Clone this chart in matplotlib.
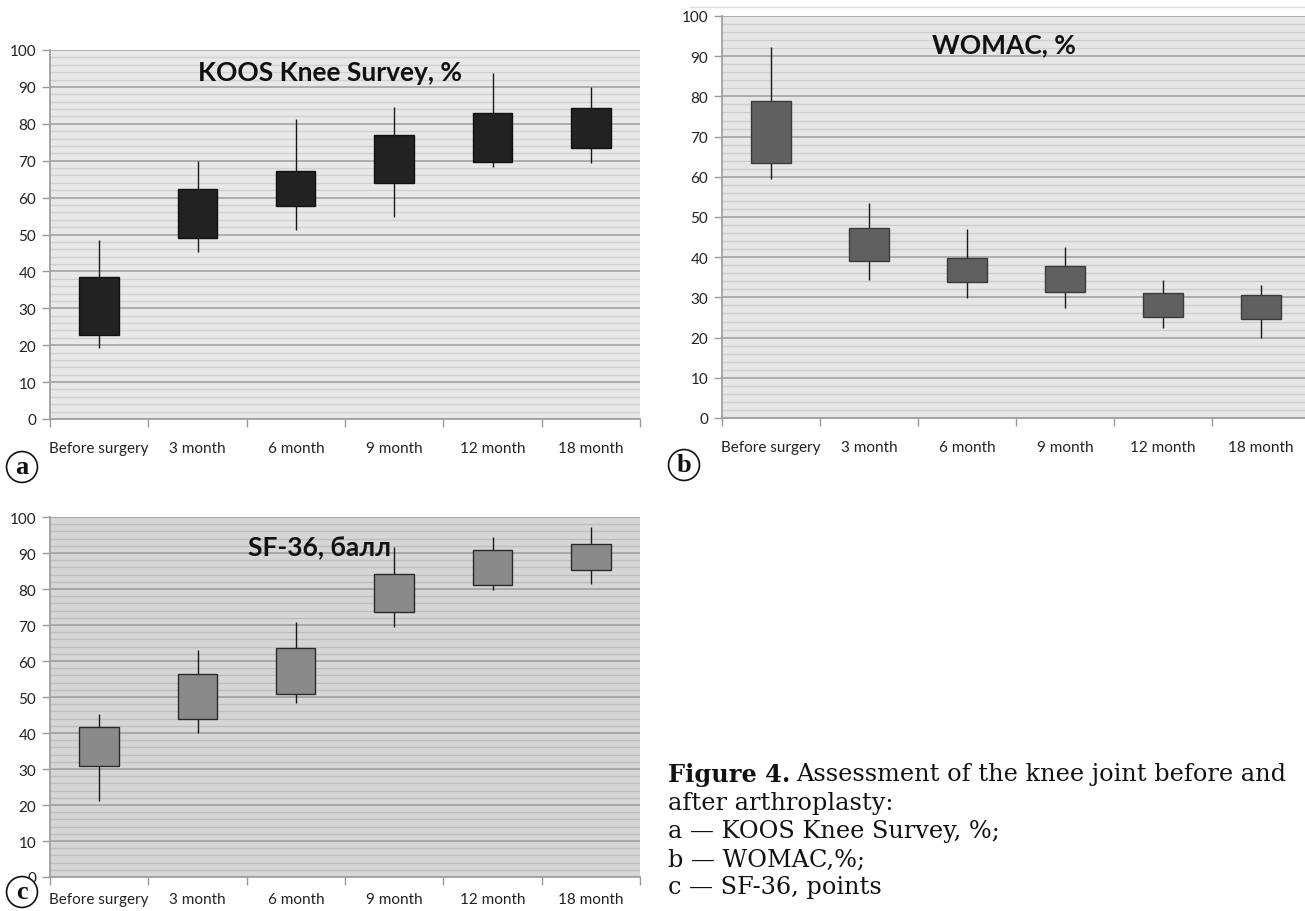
import numpy as np
import matplotlib.pyplot as plt
from matplotlib.ticker import MultipleLocator, FixedLocator, NullFormatter

plt.rcParams['font.family'] = ['Lato', 'DejaVu Sans']

months = ['Before surgery', '3 month', '6 month', '9 month', '12 month', '18 month']

# KOOS Knee Survey, %
koos_low = [19.2, 45.3, 51.2, 54.8, 68.4, 69.5]
koos_q1 = [22.8, 49.1, 57.6, 64.0, 69.6, 73.5]
koos_q3 = [38.4, 62.2, 67.3, 77.1, 82.9, 84.3]
koos_high = [48.6, 69.8, 81.2, 84.6, 93.8, 90.1]

# WOMAC, %
womac_low = [59.4, 34.4, 29.8, 27.3, 22.3, 19.8]
womac_q1 = [63.5, 39.0, 33.9, 31.3, 25.2, 24.7]
womac_q3 = [78.8, 47.2, 39.8, 37.9, 31.2, 30.6]
womac_high = [92.4, 53.5, 47.1, 42.6, 34.3, 33.1]

# SF-36, балл
sf_low = [21.1, 40.0, 48.3, 69.4, 79.6, 81.4]
sf_q1 = [30.7, 43.8, 50.9, 73.5, 81.0, 85.2]
sf_q3 = [41.7, 56.3, 63.5, 84.1, 90.7, 92.5]
sf_high = [45.4, 63.0, 70.9, 91.8, 94.4, 97.1]

W, H = 1305, 912
fig = plt.figure(figsize=(W / 100, H / 100), dpi=100)


def box_panel(rect, title, tpos, low, q1, q3, high, face, edge, bg, grid_major, grid_minor, xpad=16):
    l, t, r, b = rect
    ax = fig.add_axes([l / W, 1 - b / H, (r - l) / W, (b - t) / H])
    ax.set_facecolor(bg)
    x = np.arange(len(months)) + 0.5
    ax.vlines(x, low, high, color='#1a1a1a', lw=1.0, zorder=3)
    ax.bar(x, np.array(q3) - np.array(q1), bottom=q1, width=0.4,
           color=face, edgecolor=edge, lw=1.0, zorder=4)
    ax.set_xlim(0, len(months))
    ax.set_ylim(0, 100)
    ax.yaxis.set_major_locator(MultipleLocator(10))
    ax.yaxis.set_minor_locator(MultipleLocator(2))
    ax.grid(axis='y', which='major', color=grid_major, lw=1.3, zorder=1)
    ax.grid(axis='y', which='minor', color=grid_minor, lw=1.0, zorder=0)
    ax.set_axisbelow(True)
    ax.xaxis.set_major_locator(FixedLocator(np.arange(len(months) + 1)))
    ax.xaxis.set_major_formatter(NullFormatter())
    ax.xaxis.set_minor_locator(FixedLocator(x))
    ax.set_xticklabels(months, minor=True)
    ax.tick_params(axis='x', which='major', length=6, color='#999999', width=1)
    ax.tick_params(axis='x', which='minor', length=0, pad=xpad, labelsize=11, labelcolor='#222222')
    ax.tick_params(axis='y', which='major', length=6, color='#999999', width=1,
                   labelsize=11, labelcolor='#222222', pad=4)
    ax.tick_params(axis='y', which='minor', length=0)
    for s in ['top', 'right']:
        ax.spines[s].set_visible(False)
    for s in ['left', 'bottom']:
        ax.spines[s].set_color('#a0a0a0')
        ax.spines[s].set_linewidth(1.3)
    ax.text(tpos[0], tpos[1], title, transform=ax.transAxes, ha='center', va='center',
            fontsize=19, fontweight='bold', color='#111111', zorder=6)
    return ax


box_panel((50, 51, 640, 420), 'KOOS Knee Survey, %', (0.475, 0.94),
          koos_low, koos_q1, koos_q3, koos_high,
          '#222222', '#111111', '#e8e8e8', '#a8a8a8', '#d0d0d0')
box_panel((722, 17, 1310, 419), 'WOMAC, %', (0.48, 0.93),
          womac_low, womac_q1, womac_q3, womac_high,
          '#606060', '#3a3a3a', '#e6e6e6', '#a8a8a8', '#cecece')
box_panel((50, 518, 640, 878), 'SF-36, балл', (0.457, 0.915),
          sf_low, sf_q1, sf_q3, sf_high,
          '#8a8a8a', '#2a2a2a', '#d6d6d6', '#a4a4a4', '#bdbdbd', xpad=11)

# thin frame line above panel b
fig.add_artist(plt.Line2D([690 / W, 1.0], [1 - 8 / H, 1 - 8 / H], color='#dddddd', lw=1))

# circled panel letters
for lab, (px, py) in zip(['a', 'b', 'c'], [(22, 468), (684, 466), (22, 893)]):
    fig.text(px / W, 1 - py / H, lab, ha='center', va='center', fontsize=19,
             fontweight='bold', family='Liberation Serif', color='#111111',
             bbox=dict(boxstyle='circle,pad=0.15', fc='white', ec='#111111', lw=1.2))

# caption
cap_x = 668 / W
cap_font = 'DejaVu Serif'
cap_size = 17.3
fig.canvas.draw()
r = fig.canvas.get_renderer()
t1 = fig.text(cap_x, 1 - 775 / H, 'Figure 4.', ha='left', va='center', fontsize=cap_size,
              fontweight='bold', family=cap_font, color='#111111')
bb = t1.get_window_extent(renderer=r)
fig.text(bb.x1 / W + 6 / W, 1 - 775 / H, 'Assessment of the knee joint before and',
         ha='left', va='center', fontsize=cap_size, family=cap_font, color='#111111')
caption_lines = ['after arthroplasty:', 'a — KOOS Knee Survey, %;', 'b — WOMAC,%;', 'c — SF-36, points']
for i, line in enumerate(caption_lines):
    fig.text(cap_x, 1 - (804 + 28 * i) / H, line, ha='left', va='center', fontsize=cap_size,
             family=cap_font, color='#111111')

fig.savefig('out.png', dpi=100)
